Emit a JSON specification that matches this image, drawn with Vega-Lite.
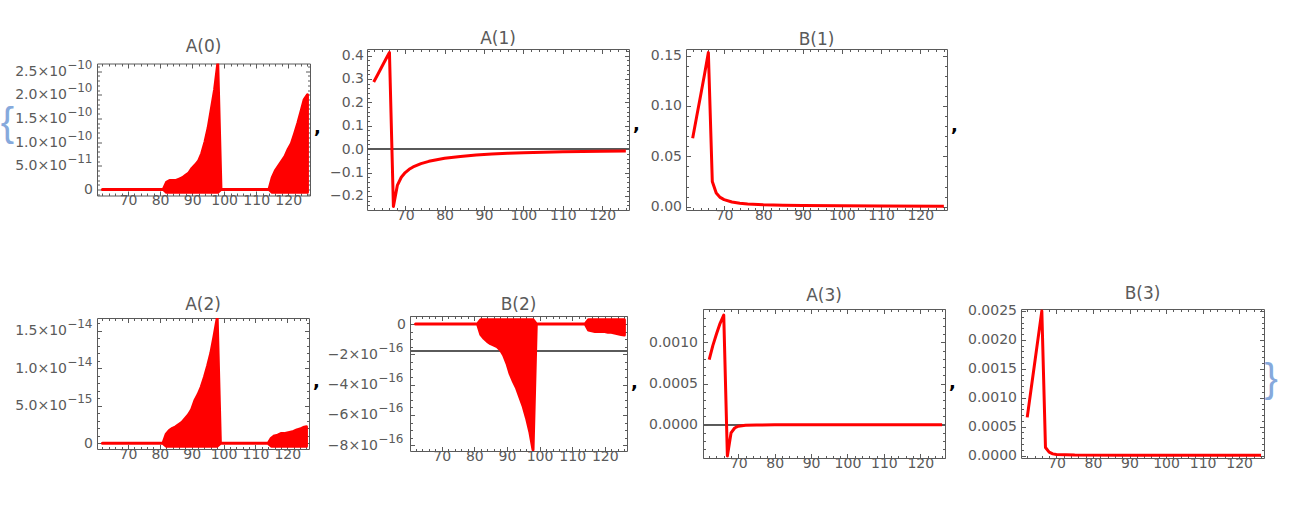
{
  "$schema": "https://vega.github.io/schema/vega-lite/v6.json",
  "background": "white",
  "padding": {"left": 0, "top": 29, "right": 0, "bottom": 0},
  "config": {
    "view": {"stroke": null},
    "axis": {"grid": false, "domainColor": "#5a5a5a", "tickColor": "#5a5a5a", "labelColor": "#5a5a5a", "labelFont": "DejaVu Sans", "labelFontSize": 14, "labelOverlap": false, "labelFlush": false, "labelBound": false, "domainWidth": 1, "tickWidth": 1},
    "title": {"font": "DejaVu Sans", "fontSize": 17, "fontWeight": "normal", "color": "#5a5a5a", "offset": 0, "frame": "group"}
  },
  "datasets": {
    "A0": [
      {"x": 62, "hi": 0, "lo": 0}, {"x": 81, "hi": 0, "lo": 0},
      {"x": 82, "hi": 1.5e-11, "lo": -6e-12}, {"x": 83, "hi": 1.9e-11, "lo": -6e-12}, {"x": 84, "hi": 1.9e-11, "lo": -6e-12}, {"x": 85, "hi": 1.9e-11, "lo": -6e-12},
      {"x": 86, "hi": 2.2e-11, "lo": -6e-12}, {"x": 87, "hi": 2.5e-11, "lo": -6e-12}, {"x": 88, "hi": 3.0e-11, "lo": -6e-12}, {"x": 89, "hi": 3.5e-11, "lo": -6e-12},
      {"x": 90, "hi": 4.5e-11, "lo": -6e-12}, {"x": 91, "hi": 5.2e-11, "lo": -6e-12}, {"x": 92, "hi": 6.0e-11, "lo": -6e-12}, {"x": 93, "hi": 7.6e-11, "lo": -6e-12},
      {"x": 94, "hi": 1.0e-10, "lo": -6e-12}, {"x": 95, "hi": 1.3e-10, "lo": -6e-12}, {"x": 96, "hi": 1.7e-10, "lo": -6e-12}, {"x": 97, "hi": 2.1e-10, "lo": -6e-12},
      {"x": 98, "hi": 2.65e-10, "lo": -6e-12}, {"x": 99, "hi": 0, "lo": 0}, {"x": 114, "hi": 0, "lo": 0},
      {"x": 115, "hi": 2.5e-11, "lo": -6e-12}, {"x": 116, "hi": 4.0e-11, "lo": -6e-12}, {"x": 117, "hi": 5.0e-11, "lo": -6e-12}, {"x": 118, "hi": 6.0e-11, "lo": -6e-12},
      {"x": 119, "hi": 7.0e-11, "lo": -6e-12}, {"x": 120, "hi": 8.5e-11, "lo": -6e-12}, {"x": 121, "hi": 9.7e-11, "lo": -6e-12}, {"x": 122, "hi": 1.18e-10, "lo": -6e-12},
      {"x": 123, "hi": 1.4e-10, "lo": -6e-12}, {"x": 124, "hi": 1.65e-10, "lo": -6e-12}, {"x": 125, "hi": 1.9e-10, "lo": -6e-12}, {"x": 126, "hi": 2.0e-10, "lo": -6e-12}
    ],
    "A1": [
      {"x": 62, "y": 0.287}, {"x": 63, "y": 0.318}, {"x": 64, "y": 0.35}, {"x": 65, "y": 0.382}, {"x": 66, "y": 0.413},
      {"x": 67, "y": -0.245}, {"x": 68, "y": -0.155}, {"x": 69, "y": -0.12}, {"x": 70, "y": -0.1}, {"x": 71, "y": -0.086},
      {"x": 72, "y": -0.076}, {"x": 74, "y": -0.062}, {"x": 76, "y": -0.052}, {"x": 78, "y": -0.045}, {"x": 80, "y": -0.039},
      {"x": 84, "y": -0.031}, {"x": 88, "y": -0.025}, {"x": 92, "y": -0.021}, {"x": 96, "y": -0.018}, {"x": 100, "y": -0.015},
      {"x": 105, "y": -0.013}, {"x": 110, "y": -0.011}, {"x": 115, "y": -0.01}, {"x": 120, "y": -0.0085}, {"x": 126, "y": -0.0075}
    ],
    "B1": [
      {"x": 62, "y": 0.068}, {"x": 63, "y": 0.089}, {"x": 64, "y": 0.11}, {"x": 65, "y": 0.131}, {"x": 66, "y": 0.153},
      {"x": 67, "y": 0.025}, {"x": 68, "y": 0.0135}, {"x": 69, "y": 0.0092}, {"x": 70, "y": 0.007}, {"x": 72, "y": 0.0046},
      {"x": 74, "y": 0.0034}, {"x": 76, "y": 0.0027}, {"x": 80, "y": 0.0019}, {"x": 85, "y": 0.0014}, {"x": 90, "y": 0.0011},
      {"x": 100, "y": 0.0008}, {"x": 110, "y": 0.0006}, {"x": 126, "y": 0.0005}
    ],
    "A2": [
      {"x": 62, "hi": 0, "lo": 0}, {"x": 81, "hi": 0, "lo": 0},
      {"x": 82, "hi": 1.2e-15, "lo": -3.8e-16}, {"x": 83, "hi": 1.7e-15, "lo": -3.8e-16}, {"x": 84, "hi": 2.0e-15, "lo": -3.8e-16}, {"x": 85, "hi": 2.2e-15, "lo": -3.8e-16},
      {"x": 86, "hi": 2.5e-15, "lo": -3.8e-16}, {"x": 87, "hi": 2.8e-15, "lo": -3.8e-16}, {"x": 88, "hi": 3.3e-15, "lo": -3.8e-16}, {"x": 89, "hi": 3.8e-15, "lo": -3.8e-16},
      {"x": 90, "hi": 4.5e-15, "lo": -3.8e-16}, {"x": 91, "hi": 5.7e-15, "lo": -3.8e-16}, {"x": 92, "hi": 6.5e-15, "lo": -3.8e-16}, {"x": 93, "hi": 7.5e-15, "lo": -3.8e-16},
      {"x": 94, "hi": 8.8e-15, "lo": -3.8e-16}, {"x": 95, "hi": 1.03e-14, "lo": -3.8e-16}, {"x": 96, "hi": 1.2e-14, "lo": -3.8e-16}, {"x": 97, "hi": 1.42e-14, "lo": -3.8e-16},
      {"x": 98, "hi": 1.66e-14, "lo": -3.8e-16}, {"x": 99, "hi": 0, "lo": 0}, {"x": 114, "hi": 0, "lo": 0},
      {"x": 115, "hi": 7e-16, "lo": -3.8e-16}, {"x": 116, "hi": 1.0e-15, "lo": -3.8e-16}, {"x": 117, "hi": 1.1e-15, "lo": -3.8e-16}, {"x": 118, "hi": 1.3e-15, "lo": -3.8e-16},
      {"x": 119, "hi": 1.3e-15, "lo": -3.8e-16}, {"x": 120, "hi": 1.4e-15, "lo": -3.8e-16}, {"x": 121, "hi": 1.5e-15, "lo": -3.8e-16}, {"x": 122, "hi": 1.6e-15, "lo": -3.8e-16},
      {"x": 123, "hi": 1.8e-15, "lo": -3.8e-16}, {"x": 124, "hi": 1.9e-15, "lo": -3.8e-16}, {"x": 125, "hi": 2.1e-15, "lo": -3.8e-16}, {"x": 126, "hi": 2.2e-15, "lo": -3.8e-16}
    ],
    "B2": [
      {"x": 62, "hi": 0, "lo": 0}, {"x": 81, "hi": 0, "lo": 0},
      {"x": 82, "hi": 2.8e-17, "lo": -7e-17}, {"x": 83, "hi": 2.8e-17, "lo": -9.5e-17}, {"x": 84, "hi": 2.8e-17, "lo": -1.15e-16}, {"x": 85, "hi": 2.8e-17, "lo": -1.3e-16},
      {"x": 86, "hi": 2.8e-17, "lo": -1.4e-16}, {"x": 87, "hi": 2.8e-17, "lo": -1.5e-16}, {"x": 88, "hi": 2.8e-17, "lo": -1.7e-16}, {"x": 89, "hi": 2.8e-17, "lo": -2.05e-16},
      {"x": 90, "hi": 2.8e-17, "lo": -2.6e-16}, {"x": 91, "hi": 2.8e-17, "lo": -3.3e-16}, {"x": 92, "hi": 2.8e-17, "lo": -3.8e-16}, {"x": 93, "hi": 2.8e-17, "lo": -4.25e-16},
      {"x": 94, "hi": 2.8e-17, "lo": -4.85e-16}, {"x": 95, "hi": 2.8e-17, "lo": -5.45e-16}, {"x": 96, "hi": 2.8e-17, "lo": -6.2e-16}, {"x": 97, "hi": 2.8e-17, "lo": -7.1e-16},
      {"x": 98, "hi": 2.8e-17, "lo": -8.3e-16}, {"x": 99, "hi": 0, "lo": 0}, {"x": 114, "hi": 0, "lo": 0},
      {"x": 115, "hi": 2.8e-17, "lo": -4e-17}, {"x": 116, "hi": 2.8e-17, "lo": -4.5e-17}, {"x": 117, "hi": 2.8e-17, "lo": -5e-17}, {"x": 118, "hi": 2.8e-17, "lo": -5e-17},
      {"x": 119, "hi": 2.8e-17, "lo": -5e-17}, {"x": 120, "hi": 2.8e-17, "lo": -5e-17}, {"x": 121, "hi": 2.8e-17, "lo": -5.5e-17}, {"x": 122, "hi": 2.8e-17, "lo": -5.5e-17},
      {"x": 123, "hi": 2.8e-17, "lo": -6e-17}, {"x": 124, "hi": 2.8e-17, "lo": -6.5e-17}, {"x": 125, "hi": 2.8e-17, "lo": -7e-17}, {"x": 126, "hi": 2.8e-17, "lo": -7.3e-17}
    ],
    "A3": [
      {"x": 62, "y": 0.00079}, {"x": 63, "y": 0.00096}, {"x": 64, "y": 0.0011}, {"x": 65, "y": 0.00123}, {"x": 66, "y": 0.00133},
      {"x": 67, "y": -0.00038}, {"x": 68, "y": -0.0001}, {"x": 69, "y": -0.00004}, {"x": 70, "y": -0.000018}, {"x": 72, "y": -0.000008},
      {"x": 75, "y": -0.000004}, {"x": 80, "y": -0.000002}, {"x": 90, "y": -0.000001}, {"x": 126, "y": 0}
    ],
    "B3": [
      {"x": 62, "y": 0.00066}, {"x": 63, "y": 0.00112}, {"x": 64, "y": 0.00158}, {"x": 65, "y": 0.00204}, {"x": 66, "y": 0.0025},
      {"x": 67, "y": 0.00014}, {"x": 68, "y": 0.00006}, {"x": 69, "y": 0.00003}, {"x": 70, "y": 0.00002}, {"x": 75, "y": 0.00001},
      {"x": 90, "y": 0.000006}, {"x": 126, "y": 0.000005}
    ]
  },
  "spacing": 60,
  "vconcat": [
    {
      "hconcat": [
        {
          "width": 213, "height": 132,
          "title": {"text": "A(0)", "dy": 2},
          "data": {"name": "A0"},
          "resolve": {"axis": {"x": "independent", "y": "independent"}},
          "layer": [
            {
              "mark": {"type": "area", "color": "#ff0000", "stroke": "#ff0000", "strokeWidth": 3, "strokeJoin": "round", "clip": true},
              "encoding": {
                "x": {"field": "x", "type": "quantitative", "scale": {"domain": [60.3, 126.8], "nice": false, "zero": false},
                  "axis": {"orient": "bottom", "values": [62,64,66,68,70,72,74,76,78,80,82,84,86,88,90,92,94,96,98,100,102,104,106,108,110,112,114,116,118,120,122,124,126], "title": null, "labelExpr": "datum.value % 10 === 0 ? datum.label : ''", "tickSize": {"condition": {"test": "datum.value % 10 === 0", "value": -4.5}, "value": -2.5}, "labelPadding": 2.5}},
                "y": {"field": "hi", "type": "quantitative", "scale": {"domain": [-1.27e-11, 2.66e-10], "nice": false, "zero": false},
                  "axis": {"orient": "left", "values": [-1e-11,0,1e-11,2e-11,3e-11,4e-11,5e-11,6e-11,7e-11,8e-11,9e-11,1e-10,1.1e-10,1.2e-10,1.3e-10,1.4e-10,1.5e-10,1.6e-10,1.7e-10,1.8e-10,1.9e-10,2e-10,2.1e-10,2.2e-10,2.3e-10,2.4e-10,2.5e-10,2.6e-10],
                    "labelExpr": "round(datum.value*1e11) % 5 !== 0 ? '' : round(datum.value*1e11) === 0 ? '0' : round(datum.value*1e11) === 5 ? '5.0×10' : format(round(datum.value*1e11)/10, '.1f') + '×10'",
                    "tickSize": {"condition": {"test": "round(datum.value*1e11) % 5 === 0", "value": -4.5}, "value": -2.5},
                    "labelPadding": {"condition": {"test": "round(datum.value*1e11) === 0", "value": 9}, "value": 35},
                    "title": "{", "titleAngle": 0, "titleFont": "Liberation Sans", "titleFontSize": 40, "titleFontWeight": "normal", "titleColor": "#86a9dc", "titleBaseline": "middle", "titleAlign": "left", "titleX": -96.7, "titleY": 60}},
                "y2": {"field": "lo"}
              }
            },
            {
              "mark": {"type": "point", "opacity": 0},
              "encoding": {
                "x": {"field": "x", "type": "quantitative", "scale": {"domain": [60.3, 126.8], "nice": false, "zero": false}, "axis": null},
                "y": {"field": "hi", "type": "quantitative", "scale": {"domain": [-1.27e-11, 2.66e-10], "nice": false, "zero": false},
                  "axis": {"orient": "left", "values": [0,5e-11,1e-10,1.5e-10,2e-10,2.5e-10], "ticks": false, "domain": false, "labelFontSize": 12, "labelOffset": -7, "labelPadding": 5, "title": null,
                    "labelExpr": "round(datum.value*1e11) === 0 ? '' : round(datum.value*1e11) === 5 ? '−11' : '−10'"}}
              }
            },
            {
              "mark": {"type": "point", "opacity": 0},
              "encoding": {
                "x": {"field": "x", "type": "quantitative", "scale": {"domain": [60.3, 126.8], "nice": false, "zero": false},
                  "axis": {"orient": "top", "values": [62,64,66,68,70,72,74,76,78,80,82,84,86,88,90,92,94,96,98,100,102,104,106,108,110,112,114,116,118,120,122,124,126], "title": null, "labels": false, "tickSize": {"condition": {"test": "datum.value % 10 === 0", "value": -4.5}, "value": -2.5}}},
                "y": {"field": "hi", "type": "quantitative", "scale": {"domain": [-1.27e-11, 2.66e-10], "nice": false, "zero": false},
                  "axis": {"orient": "right", "values": [-1e-11,0,1e-11,2e-11,3e-11,4e-11,5e-11,6e-11,7e-11,8e-11,9e-11,1e-10,1.1e-10,1.2e-10,1.3e-10,1.4e-10,1.5e-10,1.6e-10,1.7e-10,1.8e-10,1.9e-10,2e-10,2.1e-10,2.2e-10,2.3e-10,2.4e-10,2.5e-10,2.6e-10], "labels": false,
                    "tickSize": {"condition": {"test": "round(datum.value*1e11) % 5 === 0", "value": -4.5}, "value": -2.5},
                    "title": ",", "titleAngle": 0, "titleFont": "DejaVu Sans", "titleFontSize": 18, "titleFontWeight": "bold", "titleColor": "#000000", "titleBaseline": "alphabetic", "titleAlign": "left", "titlePadding": 3, "titleY": 69}}
              }
            }
          ]
        },
        {
          "width": 262, "height": 161,
          "title": {"text": "A(1)", "dy": 8},
          "data": {"name": "A1"},
          "resolve": {"axis": {"x": "independent", "y": "independent"}},
          "layer": [
            {
              "mark": {"type": "rule", "color": "#5a5a5a", "strokeWidth": 1},
              "encoding": {"y": {"datum": 0, "type": "quantitative", "scale": {"domain": [-0.26, 0.428], "nice": false, "zero": false}, "axis": null}}
            },
            {
              "mark": {"type": "line", "color": "#ff0000", "strokeWidth": 3, "strokeJoin": "round", "clip": true},
              "encoding": {
                "x": {"field": "x", "type": "quantitative", "scale": {"domain": [60.3, 126.8], "nice": false, "zero": false},
                  "axis": {"orient": "bottom", "values": [62,64,66,68,70,72,74,76,78,80,82,84,86,88,90,92,94,96,98,100,102,104,106,108,110,112,114,116,118,120,122,124,126], "title": null, "labelExpr": "datum.value % 10 === 0 ? datum.label : ''", "tickSize": {"condition": {"test": "datum.value % 10 === 0", "value": -4.5}, "value": -2.5}, "labelPadding": 2.5}},
                "y": {"field": "y", "type": "quantitative", "scale": {"domain": [-0.26, 0.428], "nice": false, "zero": false},
                  "axis": {"orient": "left", "values": [-0.24,-0.22,-0.2,-0.18,-0.16,-0.14,-0.12,-0.1,-0.08,-0.06,-0.04,-0.02,0,0.02,0.04,0.06,0.08,0.1,0.12,0.14,0.16,0.18,0.2,0.22,0.24,0.26,0.28,0.3,0.32,0.34,0.36,0.38,0.4,0.42],
                    "labelExpr": "round(datum.value*50) % 5 === 0 ? format(datum.value, '.1f') : ''",
                    "tickSize": {"condition": {"test": "round(datum.value*50) % 5 === 0", "value": -4.5}, "value": -2.5}, "labelPadding": 8, "title": null}}
              }
            },
            {
              "mark": {"type": "point", "opacity": 0},
              "encoding": {
                "x": {"field": "x", "type": "quantitative", "scale": {"domain": [60.3, 126.8], "nice": false, "zero": false},
                  "axis": {"orient": "top", "values": [62,64,66,68,70,72,74,76,78,80,82,84,86,88,90,92,94,96,98,100,102,104,106,108,110,112,114,116,118,120,122,124,126], "title": null, "labels": false, "tickSize": {"condition": {"test": "datum.value % 10 === 0", "value": -4.5}, "value": -2.5}}},
                "y": {"field": "y", "type": "quantitative", "scale": {"domain": [-0.26, 0.428], "nice": false, "zero": false},
                  "axis": {"orient": "right", "values": [-0.24,-0.22,-0.2,-0.18,-0.16,-0.14,-0.12,-0.1,-0.08,-0.06,-0.04,-0.02,0,0.02,0.04,0.06,0.08,0.1,0.12,0.14,0.16,0.18,0.2,0.22,0.24,0.26,0.28,0.3,0.32,0.34,0.36,0.38,0.4,0.42], "labels": false,
                    "tickSize": {"condition": {"test": "round(datum.value*50) % 5 === 0", "value": -4.5}, "value": -2.5},
                    "title": ",", "titleAngle": 0, "titleFont": "DejaVu Sans", "titleFontSize": 18, "titleFontWeight": "bold", "titleColor": "#000000", "titleBaseline": "alphabetic", "titleAlign": "left", "titlePadding": 3, "titleY": 80}}
              }
            }
          ]
        },
        {
          "width": 261, "height": 161,
          "title": {"text": "B(1)", "dy": 4},
          "data": {"name": "B1"},
          "resolve": {"axis": {"x": "independent", "y": "independent"}},
          "layer": [
            {
              "mark": {"type": "line", "color": "#ff0000", "strokeWidth": 3, "strokeJoin": "round", "clip": true},
              "encoding": {
                "x": {"field": "x", "type": "quantitative", "scale": {"domain": [60.3, 126.8], "nice": false, "zero": false},
                  "axis": {"orient": "bottom", "values": [62,64,66,68,70,72,74,76,78,80,82,84,86,88,90,92,94,96,98,100,102,104,106,108,110,112,114,116,118,120,122,124,126], "title": null, "labelExpr": "datum.value % 10 === 0 ? datum.label : ''", "tickSize": {"condition": {"test": "datum.value % 10 === 0", "value": -4.5}, "value": -2.5}, "labelPadding": 2.5}},
                "y": {"field": "y", "type": "quantitative", "scale": {"domain": [-0.0033, 0.1566], "nice": false, "zero": false},
                  "axis": {"orient": "left", "values": [0,0.01,0.02,0.03,0.04,0.05,0.06,0.07,0.08,0.09,0.1,0.11,0.12,0.13,0.14,0.15],
                    "labelExpr": "round(datum.value*100) % 5 === 0 ? format(datum.value, '.2f') : ''",
                    "tickSize": {"condition": {"test": "round(datum.value*100) % 5 === 0", "value": -4.5}, "value": -2.5}, "labelPadding": 9, "title": null}}
              }
            },
            {
              "mark": {"type": "point", "opacity": 0},
              "encoding": {
                "x": {"field": "x", "type": "quantitative", "scale": {"domain": [60.3, 126.8], "nice": false, "zero": false},
                  "axis": {"orient": "top", "values": [62,64,66,68,70,72,74,76,78,80,82,84,86,88,90,92,94,96,98,100,102,104,106,108,110,112,114,116,118,120,122,124,126], "title": null, "labels": false, "tickSize": {"condition": {"test": "datum.value % 10 === 0", "value": -4.5}, "value": -2.5}}},
                "y": {"field": "y", "type": "quantitative", "scale": {"domain": [-0.0033, 0.1566], "nice": false, "zero": false},
                  "axis": {"orient": "right", "values": [0,0.01,0.02,0.03,0.04,0.05,0.06,0.07,0.08,0.09,0.1,0.11,0.12,0.13,0.14,0.15], "labels": false,
                    "tickSize": {"condition": {"test": "round(datum.value*100) % 5 === 0", "value": -4.5}, "value": -2.5},
                    "title": ",", "titleAngle": 0, "titleFont": "DejaVu Sans", "titleFontSize": 18, "titleFontWeight": "bold", "titleColor": "#000000", "titleBaseline": "alphabetic", "titleAlign": "left", "titlePadding": 3, "titleY": 81}}
              }
            }
          ]
        }
      ],
      "spacing": 57,
      "bounds": "flush",
      "center": true
    },
    {
      "hconcat": [
        {
          "width": 212, "height": 131,
          "title": {"text": "A(2)", "dy": 2},
          "data": {"name": "A2"},
          "resolve": {"axis": {"x": "independent", "y": "independent"}},
          "layer": [
            {
              "mark": {"type": "area", "color": "#ff0000", "stroke": "#ff0000", "strokeWidth": 3, "strokeJoin": "round", "clip": true},
              "encoding": {
                "x": {"field": "x", "type": "quantitative", "scale": {"domain": [60.3, 126.8], "nice": false, "zero": false},
                  "axis": {"orient": "bottom", "values": [62,64,66,68,70,72,74,76,78,80,82,84,86,88,90,92,94,96,98,100,102,104,106,108,110,112,114,116,118,120,122,124,126], "title": null, "labelExpr": "datum.value % 10 === 0 ? datum.label : ''", "tickSize": {"condition": {"test": "datum.value % 10 === 0", "value": -4.5}, "value": -2.5}, "labelPadding": 2.5}},
                "y": {"field": "hi", "type": "quantitative", "scale": {"domain": [-7.5e-16, 1.668e-14], "nice": false, "zero": false},
                  "axis": {"orient": "left", "values": [0,1e-15,2e-15,3e-15,4e-15,5e-15,6e-15,7e-15,8e-15,9e-15,1e-14,1.1e-14,1.2e-14,1.3e-14,1.4e-14,1.5e-14,1.6e-14],
                    "labelExpr": "round(datum.value*1e15) % 5 !== 0 ? '' : round(datum.value*1e15) === 0 ? '0' : format(round(datum.value*1e15) === 5 ? 5 : round(datum.value*1e15)/10, '.1f') + '×10'",
                    "tickSize": {"condition": {"test": "round(datum.value*1e15) % 5 === 0", "value": -4.5}, "value": -2.5},
                    "labelPadding": {"condition": {"test": "round(datum.value*1e15) === 0", "value": 9}, "value": 35},
                    "title": "{", "titleOpacity": 0, "titleAngle": 0, "titleFont": "Liberation Sans", "titleFontSize": 40, "titleFontWeight": "normal", "titleColor": "#86a9dc", "titleBaseline": "middle", "titleAlign": "left", "titleX": -96.7, "titleY": 60}},
                "y2": {"field": "lo"}
              }
            },
            {
              "mark": {"type": "point", "opacity": 0},
              "encoding": {
                "x": {"field": "x", "type": "quantitative", "scale": {"domain": [60.3, 126.8], "nice": false, "zero": false}, "axis": null},
                "y": {"field": "hi", "type": "quantitative", "scale": {"domain": [-7.5e-16, 1.668e-14], "nice": false, "zero": false},
                  "axis": {"orient": "left", "values": [0,5e-15,1e-14,1.5e-14], "ticks": false, "domain": false, "labelFontSize": 12, "labelOffset": -7, "labelPadding": 5, "title": null,
                    "labelExpr": "round(datum.value*1e15) === 0 ? '' : round(datum.value*1e15) === 5 ? '−15' : '−14'"}}
              }
            },
            {
              "mark": {"type": "point", "opacity": 0},
              "encoding": {
                "x": {"field": "x", "type": "quantitative", "scale": {"domain": [60.3, 126.8], "nice": false, "zero": false},
                  "axis": {"orient": "top", "values": [62,64,66,68,70,72,74,76,78,80,82,84,86,88,90,92,94,96,98,100,102,104,106,108,110,112,114,116,118,120,122,124,126], "title": null, "labels": false, "tickSize": {"condition": {"test": "datum.value % 10 === 0", "value": -4.5}, "value": -2.5}}},
                "y": {"field": "hi", "type": "quantitative", "scale": {"domain": [-7.5e-16, 1.668e-14], "nice": false, "zero": false},
                  "axis": {"orient": "right", "values": [0,1e-15,2e-15,3e-15,4e-15,5e-15,6e-15,7e-15,8e-15,9e-15,1e-14,1.1e-14,1.2e-14,1.3e-14,1.4e-14,1.5e-14,1.6e-14], "labels": false,
                    "tickSize": {"condition": {"test": "round(datum.value*1e15) % 5 === 0", "value": -4.5}, "value": -2.5},
                    "title": ",", "titleAngle": 0, "titleFont": "DejaVu Sans", "titleFontSize": 18, "titleFontWeight": "bold", "titleColor": "#000000", "titleBaseline": "alphabetic", "titleAlign": "left", "titlePadding": 3, "titleY": 68}}
              }
            }
          ]
        },
        {"width": 101, "height": 10, "data": {"values": [{}]}, "mark": {"type": "point", "opacity": 0}},
        {
          "width": 217, "height": 135,
          "title": {"text": "B(2)", "dy": 9},
          "data": {"name": "B2"},
          "resolve": {"axis": {"x": "independent", "y": "independent"}},
          "layer": [
            {
              "mark": {"type": "rule", "color": "#5a5a5a", "strokeWidth": 1},
              "encoding": {"y": {"datum": -1.77e-16, "type": "quantitative", "scale": {"domain": [-8.38e-16, 5.3e-17], "nice": false, "zero": false}, "axis": null}}
            },
            {
              "mark": {"type": "area", "color": "#ff0000", "stroke": "#ff0000", "strokeWidth": 3, "strokeJoin": "round", "clip": true},
              "encoding": {
                "x": {"field": "x", "type": "quantitative", "scale": {"domain": [60.3, 126.8], "nice": false, "zero": false},
                  "axis": {"orient": "bottom", "values": [62,64,66,68,70,72,74,76,78,80,82,84,86,88,90,92,94,96,98,100,102,104,106,108,110,112,114,116,118,120,122,124,126], "title": null, "labelExpr": "datum.value % 10 === 0 ? datum.label : ''", "tickSize": {"condition": {"test": "datum.value % 10 === 0", "value": -4.5}, "value": -2.5}, "labelPadding": 2.5}},
                "y": {"field": "hi", "type": "quantitative", "scale": {"domain": [-8.38e-16, 5.3e-17], "nice": false, "zero": false},
                  "axis": {"orient": "left", "values": [5e-17,0,-5e-17,-1e-16,-1.5e-16,-2e-16,-2.5e-16,-3e-16,-3.5e-16,-4e-16,-4.5e-16,-5e-16,-5.5e-16,-6e-16,-6.5e-16,-7e-16,-7.5e-16,-8e-16],
                    "labelExpr": "round(datum.value*2e16) % 4 !== 0 ? '' : round(datum.value*2e16) === 0 ? '0' : '−' + (-round(datum.value*2e16)/2) + '×10'",
                    "tickSize": {"condition": {"test": "round(datum.value*2e16) % 4 === 0", "value": -4.5}, "value": -2.5},
                    "labelPadding": {"condition": {"test": "round(datum.value*2e16) === 0", "value": 9}, "value": 37}, "title": null}},
                "y2": {"field": "lo"}
              }
            },
            {
              "mark": {"type": "point", "opacity": 0},
              "encoding": {
                "x": {"field": "x", "type": "quantitative", "scale": {"domain": [60.3, 126.8], "nice": false, "zero": false}, "axis": null},
                "y": {"field": "hi", "type": "quantitative", "scale": {"domain": [-8.38e-16, 5.3e-17], "nice": false, "zero": false},
                  "axis": {"orient": "left", "values": [0,-2e-16,-4e-16,-6e-16,-8e-16], "ticks": false, "domain": false, "labelFontSize": 12, "labelOffset": -7, "labelPadding": 7, "title": null,
                    "labelExpr": "round(datum.value*2e16) === 0 ? '' : '−16'"}}
              }
            },
            {
              "mark": {"type": "point", "opacity": 0},
              "encoding": {
                "x": {"field": "x", "type": "quantitative", "scale": {"domain": [60.3, 126.8], "nice": false, "zero": false},
                  "axis": {"orient": "top", "values": [62,64,66,68,70,72,74,76,78,80,82,84,86,88,90,92,94,96,98,100,102,104,106,108,110,112,114,116,118,120,122,124,126], "title": null, "labels": false, "tickSize": {"condition": {"test": "datum.value % 10 === 0", "value": -4.5}, "value": -2.5}}},
                "y": {"field": "hi", "type": "quantitative", "scale": {"domain": [-8.38e-16, 5.3e-17], "nice": false, "zero": false},
                  "axis": {"orient": "right", "values": [5e-17,0,-5e-17,-1e-16,-1.5e-16,-2e-16,-2.5e-16,-3e-16,-3.5e-16,-4e-16,-4.5e-16,-5e-16,-5.5e-16,-6e-16,-6.5e-16,-7e-16,-7.5e-16,-8e-16], "labels": false,
                    "tickSize": {"condition": {"test": "round(datum.value*2e16) % 4 === 0", "value": -4.5}, "value": -2.5},
                    "title": ",", "titleAngle": 0, "titleFont": "DejaVu Sans", "titleFontSize": 18, "titleFontWeight": "bold", "titleColor": "#000000", "titleBaseline": "alphabetic", "titleAlign": "left", "titlePadding": 3, "titleY": 71}}
              }
            }
          ]
        },
        {"width": 76, "height": 10, "data": {"values": [{}]}, "mark": {"type": "point", "opacity": 0}},
        {
          "width": 242, "height": 149,
          "title": {"text": "A(3)", "dy": 7},
          "data": {"name": "A3"},
          "resolve": {"axis": {"x": "independent", "y": "independent"}},
          "layer": [
            {
              "mark": {"type": "rule", "color": "#5a5a5a", "strokeWidth": 1},
              "encoding": {"y": {"datum": 0, "type": "quantitative", "scale": {"domain": [-0.000404, 0.001404], "nice": false, "zero": false}, "axis": null}}
            },
            {
              "mark": {"type": "line", "color": "#ff0000", "strokeWidth": 3, "strokeJoin": "round", "clip": true},
              "encoding": {
                "x": {"field": "x", "type": "quantitative", "scale": {"domain": [60.3, 126.8], "nice": false, "zero": false},
                  "axis": {"orient": "bottom", "values": [62,64,66,68,70,72,74,76,78,80,82,84,86,88,90,92,94,96,98,100,102,104,106,108,110,112,114,116,118,120,122,124,126], "title": null, "labelExpr": "datum.value % 10 === 0 ? datum.label : ''", "tickSize": {"condition": {"test": "datum.value % 10 === 0", "value": -4.5}, "value": -2.5}, "labelPadding": 2.5}},
                "y": {"field": "y", "type": "quantitative", "scale": {"domain": [-0.000404, 0.001404], "nice": false, "zero": false},
                  "axis": {"orient": "left", "values": [-0.0004,-0.0003,-0.0002,-0.0001,0,0.0001,0.0002,0.0003,0.0004,0.0005,0.0006,0.0007,0.0008,0.0009,0.001,0.0011,0.0012,0.0013,0.0014],
                    "labelExpr": "round(datum.value*10000) % 5 === 0 ? format(datum.value, '.4f') : ''",
                    "tickSize": {"condition": {"test": "round(datum.value*10000) % 5 === 0", "value": -4.5}, "value": -2.5}, "labelPadding": 10, "title": null}}
              }
            },
            {
              "mark": {"type": "point", "opacity": 0},
              "encoding": {
                "x": {"field": "x", "type": "quantitative", "scale": {"domain": [60.3, 126.8], "nice": false, "zero": false},
                  "axis": {"orient": "top", "values": [62,64,66,68,70,72,74,76,78,80,82,84,86,88,90,92,94,96,98,100,102,104,106,108,110,112,114,116,118,120,122,124,126], "title": null, "labels": false, "tickSize": {"condition": {"test": "datum.value % 10 === 0", "value": -4.5}, "value": -2.5}}},
                "y": {"field": "y", "type": "quantitative", "scale": {"domain": [-0.000404, 0.001404], "nice": false, "zero": false},
                  "axis": {"orient": "right", "values": [-0.0004,-0.0003,-0.0002,-0.0001,0,0.0001,0.0002,0.0003,0.0004,0.0005,0.0006,0.0007,0.0008,0.0009,0.001,0.0011,0.0012,0.0013,0.0014], "labels": false,
                    "tickSize": {"condition": {"test": "round(datum.value*10000) % 5 === 0", "value": -4.5}, "value": -2.5},
                    "title": ",", "titleAngle": 0, "titleFont": "DejaVu Sans", "titleFontSize": 18, "titleFontWeight": "bold", "titleColor": "#000000", "titleBaseline": "alphabetic", "titleAlign": "left", "titlePadding": 3, "titleY": 78}}
              }
            }
          ]
        },
        {"width": 76, "height": 10, "data": {"values": [{}]}, "mark": {"type": "point", "opacity": 0}},
        {
          "width": 243, "height": 149,
          "title": {"text": "B(3)", "dy": 3},
          "data": {"name": "B3"},
          "resolve": {"axis": {"x": "independent", "y": "independent"}},
          "layer": [
            {
              "mark": {"type": "line", "color": "#ff0000", "strokeWidth": 3, "strokeJoin": "round", "clip": true},
              "encoding": {
                "x": {"field": "x", "type": "quantitative", "scale": {"domain": [60.3, 126.8], "nice": false, "zero": false},
                  "axis": {"orient": "bottom", "values": [62,64,66,68,70,72,74,76,78,80,82,84,86,88,90,92,94,96,98,100,102,104,106,108,110,112,114,116,118,120,122,124,126], "title": null, "labelExpr": "datum.value % 10 === 0 ? datum.label : ''", "tickSize": {"condition": {"test": "datum.value % 10 === 0", "value": -4.5}, "value": -2.5}, "labelPadding": 2.5}},
                "y": {"field": "y", "type": "quantitative", "scale": {"domain": [-0.0000414, 0.002534], "nice": false, "zero": false},
                  "axis": {"orient": "left", "values": [0,0.0001,0.0002,0.0003,0.0004,0.0005,0.0006,0.0007,0.0008,0.0009,0.001,0.0011,0.0012,0.0013,0.0014,0.0015,0.0016,0.0017,0.0018,0.0019,0.002,0.0021,0.0022,0.0023,0.0024,0.0025],
                    "labelExpr": "round(datum.value*10000) % 5 === 0 ? format(datum.value, '.4f') : ''",
                    "tickSize": {"condition": {"test": "round(datum.value*10000) % 5 === 0", "value": -4.5}, "value": -2.5}, "labelPadding": 9, "title": null}}
              }
            },
            {
              "mark": {"type": "point", "opacity": 0},
              "encoding": {
                "x": {"field": "x", "type": "quantitative", "scale": {"domain": [60.3, 126.8], "nice": false, "zero": false},
                  "axis": {"orient": "top", "values": [62,64,66,68,70,72,74,76,78,80,82,84,86,88,90,92,94,96,98,100,102,104,106,108,110,112,114,116,118,120,122,124,126], "title": null, "labels": false, "tickSize": {"condition": {"test": "datum.value % 10 === 0", "value": -4.5}, "value": -2.5}}},
                "y": {"field": "y", "type": "quantitative", "scale": {"domain": [-0.0000414, 0.002534], "nice": false, "zero": false},
                  "axis": {"orient": "right", "values": [0,0.0001,0.0002,0.0003,0.0004,0.0005,0.0006,0.0007,0.0008,0.0009,0.001,0.0011,0.0012,0.0013,0.0014,0.0015,0.0016,0.0017,0.0018,0.0019,0.002,0.0021,0.0022,0.0023,0.0024,0.0025], "labels": false,
                    "tickSize": {"condition": {"test": "round(datum.value*10000) % 5 === 0", "value": -4.5}, "value": -2.5},
                    "title": "}", "titleAngle": 0, "titleFont": "Liberation Sans", "titleFontSize": 40, "titleFontWeight": "normal", "titleColor": "#86a9dc", "titleBaseline": "middle", "titleAlign": "left", "titleX": 0, "titleY": 70}}
              }
            }
          ]
        }
      ],
      "spacing": 0,
      "bounds": "flush",
      "center": true
    }
  ]
}
